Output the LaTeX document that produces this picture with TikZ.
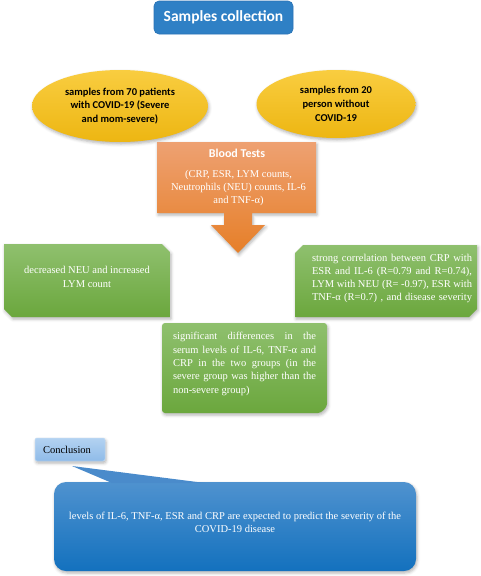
\documentclass[tikz,border=0pt]{standalone}
\usepackage{fontspec}
\setmainfont{Liberation Serif}
\newfontfamily\carlito{Carlito}
\usetikzlibrary{shapes.geometric,shadows.blur}
\definecolor{sblue}{HTML}{2F80C5}
\definecolor{sblueb}{HTML}{2A72B4}
\definecolor{ytop}{HTML}{F9CD40}
\definecolor{ybot}{HTML}{EDB612}
\definecolor{otop}{HTML}{EEA172}
\definecolor{obot}{HTML}{E67F28}
\definecolor{gtop}{HTML}{8FC06E}
\definecolor{gbot}{HTML}{6BA73D}
\definecolor{ctop}{HTML}{B3D2F1}
\definecolor{cbot}{HTML}{8FBBE8}
\definecolor{btop}{HTML}{4F92CF}
\definecolor{bbot}{HTML}{1371BE}
\definecolor{tailc}{HTML}{4A8BCB}
\begin{document}
\begin{tikzpicture}[x=1pt,y=-1pt,
  myshadow/.style={blur shadow={shadow xshift=1pt,shadow yshift=-2pt,shadow opacity=30,shadow blur radius=3pt}},
  sbox/.style={draw=sblueb,fill=sblue,rounded corners=5pt,line width=0.6pt},
  ell/.style={ellipse,inner sep=0pt,top color=ytop,bottom color=ybot,draw=none,myshadow,
    minimum width=#1,align=center,font=\carlito\bfseries\fontsize{10.5}{13.7}\selectfont},
  orangeshape/.style={top color=otop,bottom color=obot,draw=none,myshadow},
  greenshape/.style={top color=gtop,bottom color=gbot,draw=none,myshadow},
  wtext/.style={text=white,inner sep=0pt,font=\fontsize{10.5}{13.3}\selectfont},
  concl/.style={top color=ctop,bottom color=cbot,draw=ctop!80!white,rounded corners=2pt,line width=0.5pt,myshadow},
  bigbox/.style={top color=btop,bottom color=bbot,draw=none,rounded corners=12pt,myshadow}
]
\useasboundingbox (0,0) rectangle (480,576);

% Samples collection
\path[sbox] (154,1) rectangle (293,34);
\node[text=white,font=\carlito\bfseries\fontsize{15.5}{18}\selectfont,inner sep=0pt] (samples) at (223.5,17.5) {Samples collection};

% ellipses
\node[ell=176pt,minimum height=72pt] (leftell) at (120,106)
  {samples from 70 patients\\ with COVID-19 (Severe\\ and mom-severe)};
\node[ell=159pt,minimum height=68pt] (rightell) at (336,104)
  {samples from 20\\ person without\\ COVID-19};

% Blood tests box with arrow
\path[orangeshape] (157,142) -- (316,142) -- (316,213) -- (252,213) -- (252,225) -- (265,225)
  -- (238,253) -- (211,225) -- (224,225) -- (224,213) -- (157,213) -- cycle;
\node[text=white,font=\carlito\bfseries\fontsize{12}{14}\selectfont,inner sep=0pt] (bloodtitle) at (237,153) {Blood Tests};
\node[wtext,align=center] (bloodbody) at (238.5,188)
  {(CRP, ESR, LYM counts,\\ Neutrophils (NEU) counts, IL-6\\ and TNF-α)};

% left green
\path[greenshape] (4,244) -- (162,244) -- (170,252) -- (170,317) -- (12,317) -- (4,309) -- cycle;
\node[wtext,align=center] (leftgreen) at (87,277) {decreased NEU and increased\\ LYM count};

% right green
\path[greenshape] (303,245) -- (477,245) -- (477,309) -- (469,317) -- (295,317) -- (295,253) -- cycle;
\node[wtext,align=left] (rightgreen) at (392,278.5)
  {\makebox[160pt][s]{strong correlation between CRP with}\\
   \makebox[160pt][s]{ESR and IL-6 (R=0.79 and R=0.74),}\\
   \makebox[160pt][s]{LYM with NEU (R= -0.97), ESR with}\\
   \makebox[160pt][s]{TNF-α (R=0.7) , and disease severity}};

% center green
\path[greenshape,rounded corners=3pt] (162,413) -- (162,323) -- (327,323) -- (327,401)
  arc[start angle=0,end angle=-90,radius=12pt] -- cycle;
\node[wtext,align=left] (centergreen) at (244.5,364)
  {\makebox[143pt][s]{significant differences in the}\\
   \makebox[143pt][s]{serum levels of IL-6, TNF-α and}\\
   \makebox[143pt][s]{CRP in the two groups (in the}\\
   \makebox[143pt][s]{severe group was higher than the}\\
   \makebox[143pt][l]{non-severe group)}};

% conclusion
\path[concl] (35,438) rectangle (105,461);
\node[inner sep=0pt,font=\fontsize{10.5}{12}\selectfont] (conclusion) at (67,449.5) {Conclusion};

% big box with callout tail
\path[bigbox] (54,482) rectangle (416,571);
\path[fill=tailc] (112,483) -- (72,466) -- (205,483) -- cycle;
\node[wtext,align=center] (bigtext) at (235,522.5)
  {levels of IL-6, TNF-α, ESR and CRP are expected to predict the severity of the\\ COVID-19 disease};
\end{tikzpicture}
\end{document}
